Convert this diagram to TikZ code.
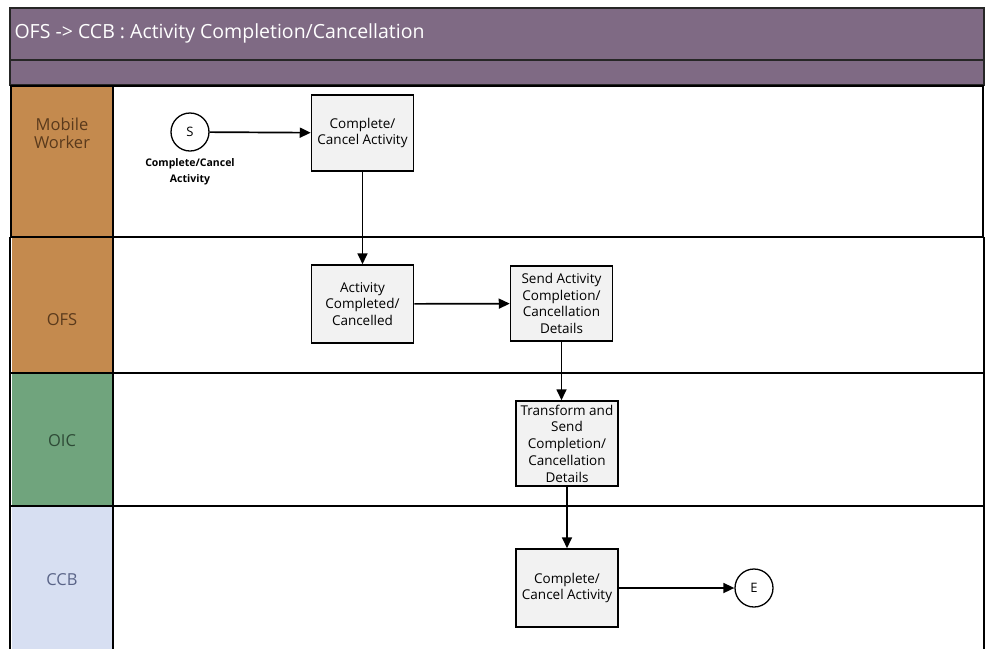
\documentclass[tikz,border=0pt]{standalone}
\usepackage{fontspec}
\setmainfont{Open Sans}
\usetikzlibrary{arrows.meta}
\definecolor{hdr}{HTML}{7F6A84}
\definecolor{brn}{HTML}{C48A4E}
\definecolor{grn}{HTML}{70A47D}
\definecolor{blu}{HTML}{D7DFF2}
\definecolor{boxfill}{HTML}{F2F2F2}
\definecolor{brntxt}{HTML}{5A3A1C}
\definecolor{grntxt}{HTML}{2E4A36}
\definecolor{blutxt}{HTML}{5A6488}
\tikzset{
  procbox/.style={draw=black, line width=1.5pt, fill=boxfill, minimum width=102pt, align=center, inner xsep=0pt, inner ysep=1pt, font=\fontsize{13.5}{16.8}\selectfont},
  evt/.style={draw=black, line width=1.3pt, circle, minimum size=38pt, inner sep=0pt, font=\fontsize{13}{15}\selectfont},
  flow/.style={line width=1.7pt, -{Triangle[length=11pt,width=10pt]}},
  lanelbl/.style={font=\fontsize{16.5}{18}\selectfont, align=center},
  laneline/.style={line width=1.7pt, draw=black}
}
\begin{document}
\begin{tikzpicture}[x=1pt,y=-1pt]
\useasboundingbox (0,0) rectangle (988,649);
% header
\fill[hdr] (10,8) rectangle (984,85);
\draw[line width=1.7pt, draw=black!85] (10,8) rectangle (984,60);
\draw[line width=1.7pt, draw=black!85] (10,60) rectangle (984,85);
\node[anchor=west, text=white, font=\fontsize{19.5}{22}\selectfont] (title) at (11,33) {OFS -> CCB : Activity Completion/Cancellation};
% lane colours
\fill[brn] (12,85) rectangle (113,373);
\fill[grn] (12,373) rectangle (113,506);
\fill[blu] (12,506) rectangle (113,649);
% lane lines
\draw[laneline] (10,237) -- (984,237);
\draw[laneline] (10,373) -- (984,373);
\draw[laneline] (10,506) -- (984,506);
\draw[laneline] (10,237) -- (10,649);
\draw[laneline] (984,237) -- (984,649);
\draw[laneline] (113,85) -- (113,649);
\draw[line width=2.8pt] (11,86) rectangle (983,237);
% lane labels
\node[lanelbl, text=brntxt] (lmw) at (62,133) {Mobile\\Worker};
\node[lanelbl, text=brntxt] (lofs) at (62,320) {OFS};
\node[lanelbl, text=grntxt] (loic) at (62,441) {OIC};
\node[lanelbl, text=blutxt] (lccb) at (62,580) {CCB};
% nodes
\node[evt] (s) at (190,132) {S};
\node[font=\bfseries\fontsize{10.5}{16}\selectfont, align=center] (slbl) at (190,171.5) {Complete/Cancel\\Activity};
\node[procbox, minimum height=76pt] (b1) at (362.5,133) {Complete/\\Cancel Activity};
\node[procbox, minimum height=78pt] (b2) at (362.5,304) {Activity\\Completed/\\Cancelled};
\node[procbox, minimum height=75pt] (b3) at (561.5,303.5) {Send Activity\\Completion/\\Cancellation\\Details};
\node[procbox, minimum height=85pt] (b4) at (567,443.5) {Transform and\\Send\\Completion/\\Cancellation\\Details};
\node[procbox, minimum height=78pt] (b5) at (567,588) {Complete/\\Cancel Activity};
\node[evt] (e) at (754,588) {E};
% connectors
\draw[flow] (s) -- (b1);
\draw[flow] (b1) -- (b2);
\draw[flow] (b2) -- (b3);
\draw[flow] (b3.south) -- (b3.south |- b4.north);
\draw[flow] (b4) -- (b5);
\draw[flow] (b5) -- (e);
\end{tikzpicture}
\end{document}
